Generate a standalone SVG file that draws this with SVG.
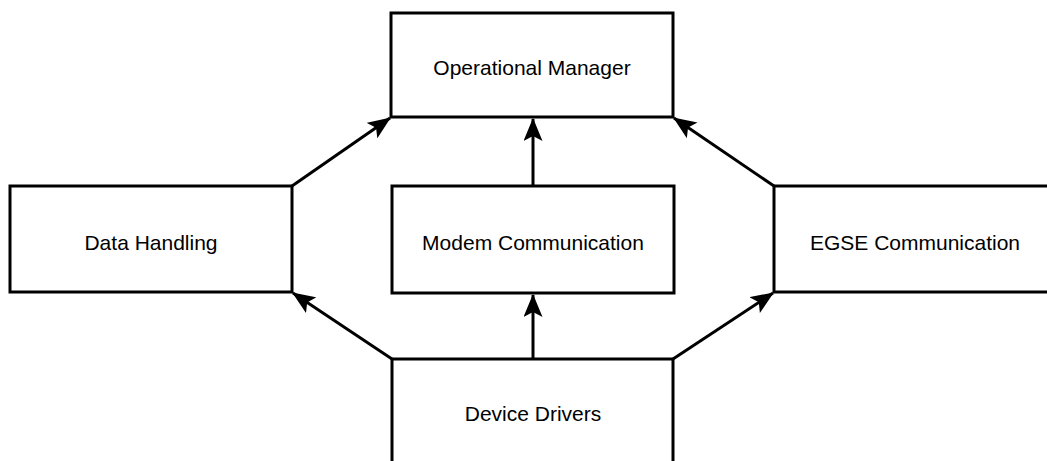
<svg xmlns="http://www.w3.org/2000/svg" width="1047" height="461" viewBox="0 0 1047 461">
<style>
.box{fill:#fff;stroke:#000;stroke-width:3}
.lbl{font-family:"Liberation Sans",Arial,sans-serif;font-size:21px;fill:#000;text-anchor:middle;dominant-baseline:central}
.conn{fill:none;stroke:#000;stroke-width:3}
</style>
<defs>
<marker id="arr" viewBox="0 0 23 19" refX="22" refY="9.5" markerWidth="23" markerHeight="19" markerUnits="userSpaceOnUse" orient="auto">
<path d="M0,0 L23,9.5 L0,19 L5,9.5 Z" fill="#000"/>
</marker>
</defs>
<rect width="1047" height="461" fill="#fff"/>
<g id="om"><rect class="box" x="391" y="13" width="282" height="104"/><text class="lbl" x="532" y="67">Operational Manager</text></g>
<g id="dh"><rect class="box" x="10" y="186" width="282" height="106"/><text class="lbl" x="151" y="242">Data Handling</text></g>
<g id="mc"><rect class="box" x="392" y="186" width="282" height="107"/><text class="lbl" x="533" y="242">Modem Communication</text></g>
<g id="egse"><rect class="box" x="774" y="186" width="282" height="106"/><text class="lbl" x="915" y="242">EGSE Communication</text></g>
<g id="dd"><rect class="box" x="392" y="359" width="281" height="120"/><text class="lbl" x="533" y="413">Device Drivers</text></g>
<g id="connectors">
<line class="conn" x1="533" y1="186" x2="533" y2="119" marker-end="url(#arr)"/>
<line class="conn" x1="533" y1="359" x2="533" y2="295" marker-end="url(#arr)"/>
<line class="conn" x1="292" y1="186" x2="390" y2="118" marker-end="url(#arr)"/>
<line class="conn" x1="774" y1="186" x2="674" y2="118" marker-end="url(#arr)"/>
<line class="conn" x1="392" y1="359" x2="293" y2="293" marker-end="url(#arr)"/>
<line class="conn" x1="673" y1="359" x2="773" y2="293" marker-end="url(#arr)"/>
</g>
</svg>
